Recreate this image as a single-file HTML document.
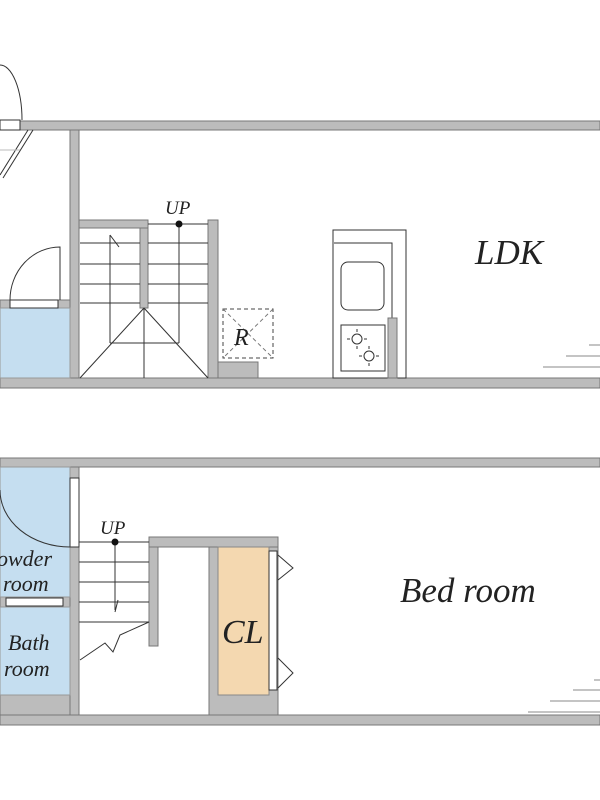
<!DOCTYPE html>
<html><head><meta charset="utf-8"><style>
html,body{margin:0;padding:0;background:#fff;width:600px;height:800px;overflow:hidden}
text{font-family:"Liberation Serif",serif;font-style:italic;fill:#222}
</style></head><body>
<svg width="600" height="800" viewBox="0 0 600 800" xmlns="http://www.w3.org/2000/svg">
<g stroke="#777" stroke-width="1" fill="#bcbcbc">
<rect x="20" y="121" width="580" height="9"/>
<rect x="70" y="130" width="9" height="248"/>
<rect x="79" y="220" width="69" height="8"/>
<rect x="140" y="228" width="8" height="80"/>
<rect x="208" y="220" width="10" height="158"/>
<rect x="0" y="378" width="600" height="10"/>
<rect x="218" y="362" width="40" height="16"/>
<rect x="0" y="300" width="70" height="8"/>
</g>
<rect x="0" y="308" width="70" height="70" fill="#c5def0" stroke="#999"/>
<rect x="0" y="120" width="20" height="10" fill="#fff" stroke="#333"/>
<path d="M0,65 A22,55 0 0 1 22,120" fill="none" stroke="#333"/>
<g stroke="#333" fill="none">
<line x1="28" y1="130" x2="0" y2="175"/><line x1="33" y1="130" x2="3" y2="178"/>
<line x1="0" y1="150" x2="20" y2="150" stroke="#bbb"/>
</g>
<rect x="10" y="300" width="48" height="8" fill="#fff" stroke="#333"/>
<path d="M10,300 A50,53 0 0 1 60,247 L60,300" fill="none" stroke="#333"/>
<g stroke="#333" fill="none" stroke-width="1">
<line x1="148" y1="224" x2="208" y2="224"/>
<line x1="80" y1="243" x2="140" y2="243"/><line x1="148" y1="243" x2="208" y2="243"/>
<line x1="80" y1="264" x2="140" y2="264"/><line x1="148" y1="264" x2="208" y2="264"/>
<line x1="80" y1="284" x2="140" y2="284"/><line x1="148" y1="284" x2="208" y2="284"/>
<line x1="80" y1="303" x2="140" y2="303"/><line x1="148" y1="303" x2="208" y2="303"/>
<line x1="110" y1="235" x2="110" y2="343"/><line x1="179" y1="224" x2="179" y2="343"/>
<line x1="110" y1="343" x2="179" y2="343"/>
<line x1="144" y1="308" x2="144" y2="378"/>
<line x1="144" y1="308" x2="80" y2="378"/><line x1="144" y1="308" x2="208" y2="378"/>
<line x1="110" y1="235" x2="119" y2="247"/>
</g>
<circle cx="179" cy="224" r="3.5" fill="#111"/>
<text x="165" y="214" font-size="19">UP</text>
<rect x="223" y="309" width="50" height="49" fill="none" stroke="#444" stroke-dasharray="4,3"/>
<line x1="223" y1="309" x2="273" y2="358" stroke="#777" stroke-dasharray="4,3"/>
<line x1="273" y1="309" x2="223" y2="358" stroke="#777" stroke-dasharray="4,3"/>
<text x="234" y="345" font-size="24">R</text>
<g stroke="#333" fill="none">
<rect x="333" y="230" width="73" height="148"/>
<polyline points="334,243 392,243 392,320"/>
<rect x="341" y="262" width="43" height="48" rx="7"/>
<rect x="341" y="325" width="44" height="46"/>
<circle cx="357" cy="339" r="5"/><circle cx="369" cy="356" r="5"/>
<path d="M350,339h-3M364,339h3M357,332v-3M357,346v3M362,356h-3M376,356h3M369,349v-3M369,363v3"/>
</g>
<rect x="388" y="318" width="9" height="60" fill="#bcbcbc" stroke="#777"/>
<g stroke="#888"><line x1="589" y1="345" x2="600" y2="345"/><line x1="566" y1="356" x2="600" y2="356"/><line x1="543" y1="367" x2="600" y2="367"/></g>
<text x="475" y="264" font-size="35">LDK</text>
<g stroke="#777" fill="#bcbcbc">
<rect x="0" y="458" width="600" height="9"/>
<rect x="70" y="467" width="9" height="248"/>
<rect x="149" y="537" width="129" height="10"/>
<rect x="149" y="547" width="9" height="99"/>
<rect x="209" y="547" width="69" height="168"/>
<rect x="0" y="597" width="70" height="10"/>
<rect x="0" y="695" width="70" height="20"/>
<rect x="0" y="715" width="600" height="10"/>
</g>
<rect x="0" y="467" width="70" height="130" fill="#c5def0" stroke="#999"/>
<rect x="0" y="607" width="70" height="88" fill="#c5def0" stroke="#999"/>
<rect x="70" y="478" width="9" height="69" fill="#fff" stroke="#333"/>
<path d="M0,490 A70,57 0 0 0 70,547" fill="none" stroke="#333"/>
<rect x="6" y="598" width="57" height="8" fill="#fff" stroke="#333"/>
<rect x="218" y="547" width="51" height="148" fill="#f4d8b0" stroke="#888"/>
<rect x="269" y="551" width="8" height="139" fill="#fff" stroke="#333"/>
<g stroke="#333" fill="none">
<polyline points="278,555 293,568 278,580"/><polyline points="278,658 293,673 278,688"/>
<line x1="79" y1="542" x2="149" y2="542"/><line x1="79" y1="562" x2="149" y2="562"/>
<line x1="79" y1="582" x2="149" y2="582"/><line x1="79" y1="602" x2="149" y2="602"/>
<line x1="79" y1="622" x2="149" y2="622"/>
<line x1="115" y1="542" x2="115" y2="610"/><line x1="118" y1="600" x2="115" y2="612"/>
<polyline points="80,660 105,643 113,652 120,635 149,622"/>
</g>
<circle cx="115" cy="542" r="3.5" fill="#111"/>
<text x="100" y="534" font-size="19">UP</text>
<g stroke="#888"><line x1="594" y1="680" x2="600" y2="680"/><line x1="573" y1="690" x2="600" y2="690"/><line x1="550" y1="701" x2="600" y2="701"/><line x1="528" y1="712" x2="600" y2="712"/></g>
<text x="222" y="643" font-size="34">CL</text>
<text x="400" y="602" font-size="35">Bed room</text>
<text x="-3" y="566" font-size="22">owder</text>
<text x="3" y="591" font-size="22">room</text>
<text x="8" y="650" font-size="22">Bath</text>
<text x="4" y="676" font-size="22">room</text>
</svg>
</body></html>
